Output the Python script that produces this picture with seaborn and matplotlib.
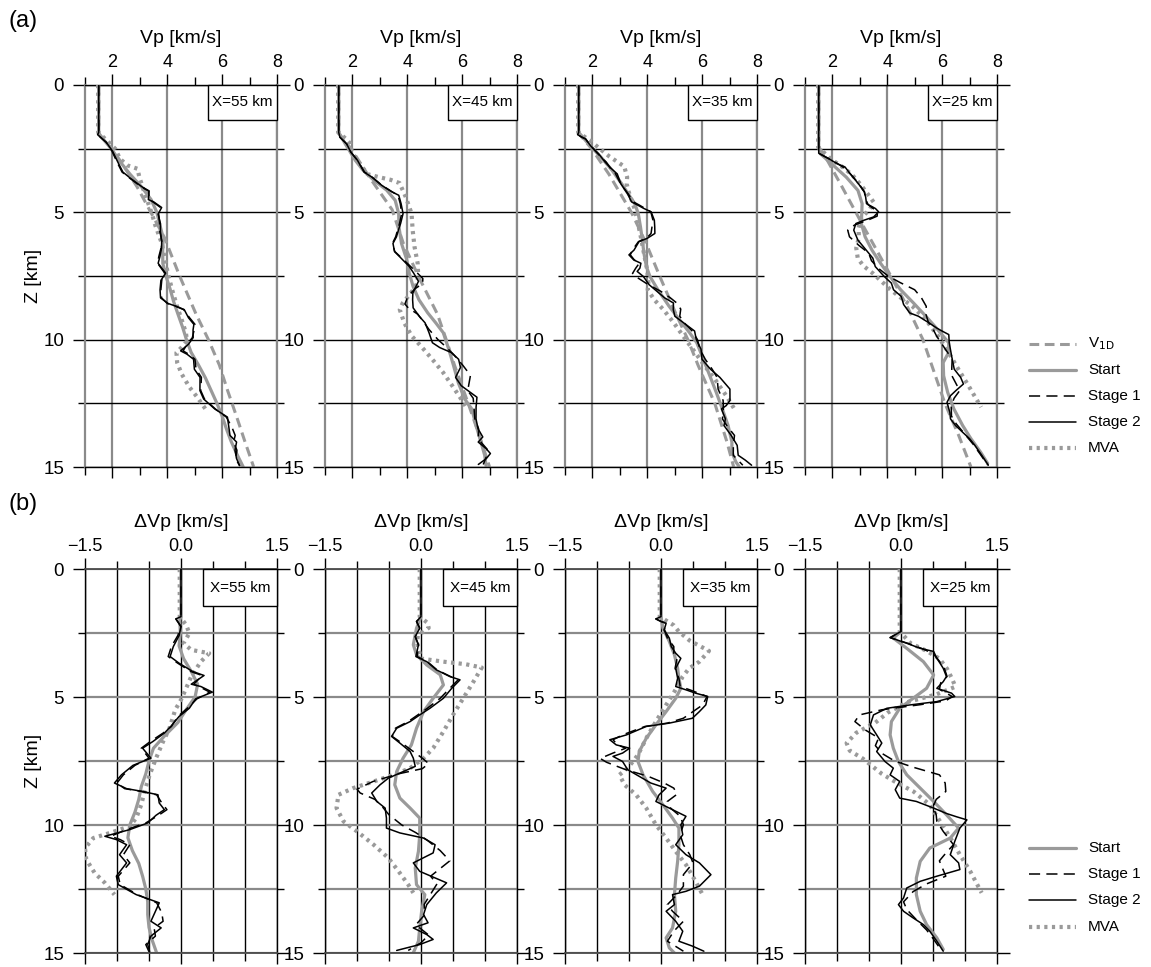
import numpy as np
import matplotlib
matplotlib.use("Agg")
import matplotlib.pyplot as plt
import seaborn as sns
from matplotlib.lines import Line2D
from matplotlib.patches import Rectangle
from matplotlib.ticker import FixedLocator, FuncFormatter, NullFormatter

sns.set_theme(style="white")
plt.rcParams["font.family"] = ["Liberation Sans", "DejaVu Sans"]
plt.rcParams["lines.scale_dashes"] = False
plt.rcParams["mathtext.fontset"] = "custom"
plt.rcParams["mathtext.rm"] = "Liberation Sans"
plt.rcParams["mathtext.default"] = "regular"
for key in ("text.color", "axes.labelcolor", "xtick.color", "ytick.color"):
    plt.rcParams[key] = "black"

# ---------------------------------------------------------------- data
profiles = ["X=55 km", "X=45 km", "X=35 km", "X=25 km"]

# 1-D reference model V1D: (depth km, Vp km/s)
v1d_55 = [(0, 1.5), (1.9, 1.5), (2.5, 1.97), (3.0, 2.3), (4.0, 2.9), (5.0, 3.4), (6.0, 3.9),
          (7.5, 4.45), (9.0, 5.05), (10.0, 5.5), (11.0, 5.9), (12.0, 6.2), (13.0, 6.52),
          (14.0, 6.83), (15.0, 7.15)]
v1d_45 = [(0, 1.5), (1.9, 1.5), (2.5, 1.95), (3.7, 2.67), (4.9, 3.45), (6.2, 3.85), (7.5, 4.4),
          (9.0, 5.1), (10.0, 5.42), (11.0, 5.72), (12.5, 6.22), (14.0, 6.7), (15.0, 7.0)]
v1d_35 = [(0, 1.5), (1.9, 1.5), (2.5, 1.97), (3.5, 2.6), (5.0, 3.42), (6.2, 3.95), (7.5, 4.45),
          (9.0, 5.05), (10.0, 5.48), (11.0, 5.85), (12.5, 6.46), (14.0, 6.9), (15.0, 7.15)]
v1d_25 = [(0, 1.5), (2.44, 1.5), (2.68, 1.67), (3.86, 2.28), (5.55, 3.13), (6.5, 3.62),
          (7.5, 4.13), (8.75, 4.75), (10.0, 5.3), (11.25, 5.7), (12.5, 6.1), (13.75, 6.6),
          (15.0, 7.05)]

# Perturbations relative to V1D: (depth km, dVp km/s)
start_55 = [(0, 0), (1.86, 0), (2.0, -0.02), (2.5, -0.01), (3.0, -0.03), (3.5, 0.04), (4.0, 0.16),
            (4.5, 0.26), (5.0, 0.22), (5.5, 0.08), (6.0, -0.05), (6.5, -0.25), (7.0, -0.43),
            (7.5, -0.5), (8.0, -0.55), (8.5, -0.62), (9.0, -0.66), (9.5, -0.72), (10.0, -0.8),
            (10.5, -0.83), (11.0, -0.76), (11.5, -0.66), (12.0, -0.6), (12.5, -0.55),
            (13.0, -0.52), (13.5, -0.52), (14.0, -0.5), (14.5, -0.45), (15.0, -0.38)]
stage1_55 = [(0, 0), (1.86, 0), (1.95, -0.08), (2.25, 0), (2.6, -0.05), (3.03, -0.15), (3.42, -0.2),
             (3.68, -0.05), (4.0, 0.15), (4.16, 0.33), (4.5, 0.2), (4.59, 0.28), (4.81, 0.45),
             (5.07, 0.25), (5.44, 0.1), (5.76, -0.05), (6.15, -0.15), (6.41, -0.28), (6.74, -0.48),
             (7.0, -0.62), (7.39, -0.5), (7.67, -0.72), (8.04, -0.9), (8.36, -1.0), (8.58, -0.88),
             (8.69, -0.62), (8.82, -0.38), (9.14, -0.3), (9.4, -0.22), (9.62, -0.35), (9.92, -0.55),
             (10.18, -0.85), (10.44, -1.1), (10.57, -0.95), (10.77, -0.8), (11.16, -0.9),
             (11.48, -0.8), (12.0, -0.98), (12.33, -0.95), (12.72, -0.68), (13.04, -0.38),
             (13.43, -0.3), (13.76, -0.28), (14.02, -0.42), (14.34, -0.4), (14.67, -0.55),
             (14.95, -0.5)]
stage2_55 = [(0, 0), (1.86, 0), (1.95, -0.08), (2.25, 0), (2.6, -0.03), (3.03, -0.12), (3.42, -0.17),
             (3.68, -0.03), (4.0, 0.18), (4.16, 0.36), (4.5, 0.16), (4.59, 0.31), (4.81, 0.49),
             (5.07, 0.23), (5.44, 0.13), (5.76, -0.03), (6.15, -0.16), (6.41, -0.26), (6.74, -0.44),
             (7.0, -0.6), (7.39, -0.47), (7.67, -0.75), (8.04, -0.93), (8.36, -1.04), (8.58, -0.85),
             (8.69, -0.6), (8.82, -0.36), (9.14, -0.34), (9.4, -0.26), (9.62, -0.39), (9.92, -0.52),
             (10.18, -0.8), (10.44, -1.19), (10.57, -1.01), (10.77, -0.85), (11.16, -0.96),
             (11.48, -0.85), (12.0, -1.01), (12.33, -0.98), (12.72, -0.7), (13.04, -0.34),
             (13.43, -0.41), (13.76, -0.47), (14.02, -0.31), (14.34, -0.47), (14.67, -0.52),
             (14.95, -0.49)]
mva_55 = [(0, -0.02), (1.86, -0.02), (2.18, 0.08), (2.51, 0.13), (2.9, 0.04), (3.16, 0.16),
          (3.29, 0.44), (3.62, 0.31), (4.2, 0.16), (4.66, 0.08), (5.11, 0.0), (5.5, -0.09),
          (6.22, -0.18), (6.74, -0.28), (7.39, -0.39), (8.04, -0.49), (8.69, -0.57), (9.2, -0.62),
          (9.73, -0.7), (10.05, -0.8), (10.31, -1.11), (10.51, -1.37), (10.9, -1.5),
          (11.35, -1.48), (11.87, -1.35), (12.26, -1.19), (12.72, -1.04)]

start_45 = [(0, 0), (1.86, 0), (2.31, -0.07), (2.96, -0.12), (3.35, -0.07), (3.75, 0.09),
            (4.13, 0.3), (4.53, 0.35), (5.05, 0.19), (5.57, 0.04), (6.22, -0.07), (6.87, -0.15),
            (7.39, -0.28), (7.91, -0.38), (8.43, -0.41), (8.95, -0.33), (9.34, -0.17),
            (9.73, -0.02), (10.38, -0.02), (11.03, -0.04), (11.68, -0.09), (12.33, -0.07),
            (12.72, 0.06), (13.37, 0.01), (14.02, -0.02), (14.54, -0.04), (14.99, -0.12)]
stage1_45 = [(0, 0), (1.86, 0), (2.05, -0.07), (2.31, -0.02), (2.64, -0.09), (2.96, -0.04),
             (3.42, -0.06), (3.62, 0.1), (3.94, 0.25), (4.2, 0.46), (4.33, 0.58), (4.66, 0.45),
             (5.05, 0.3), (5.44, 0.1), (5.7, -0.05), (5.96, -0.2), (6.22, -0.4), (6.54, -0.45),
             (6.8, -0.3), (7.13, -0.12), (7.39, 0.02), (7.6, 0.12), (7.8, 0.02), (8.0, -0.35),
             (8.3, -0.75), (8.6, -1.0), (8.75, -0.95), (9.0, -0.72), (9.3, -0.6), (9.6, -0.5),
             (10.0, -0.3), (10.3, -0.08), (10.6, 0.1), (11.0, 0.3), (11.4, 0.45), (11.7, 0.3),
             (12.0, 0.15), (12.3, 0.25), (12.7, 0.15), (13.1, 0.05), (13.5, 0.06), (13.9, -0.08),
             (14.3, 0.12), (14.6, 0.0), (14.9, -0.2)]
stage2_45 = [(0, 0), (1.86, 0), (2.05, -0.07), (2.31, -0.02), (2.64, -0.09), (2.96, -0.04),
             (3.42, -0.08), (3.62, 0.09), (3.94, 0.24), (4.2, 0.45), (4.33, 0.61), (4.66, 0.48),
             (5.05, 0.35), (5.44, 0.14), (5.7, -0.02), (5.96, -0.17), (6.22, -0.38), (6.54, -0.46),
             (6.8, -0.33), (7.13, -0.17), (7.39, -0.12), (7.71, -0.09), (7.97, -0.33),
             (8.17, -0.51), (8.43, -0.64), (8.75, -0.77), (9.08, -0.69), (9.34, -0.56),
             (9.73, -0.54), (10.12, -0.54), (10.31, -0.33), (10.51, 0.04), (10.77, 0.22),
             (11.09, 0.19), (11.48, -0.12), (11.81, -0.02), (12.26, 0.4), (12.65, 0.24),
             (13.11, 0.09), (13.5, 0.04), (13.82, 0.11), (14.02, -0.12), (14.28, 0.09),
             (14.47, 0.19), (14.67, -0.02), (14.9, -0.38)]
mva_45 = [(0, -0.02), (1.86, -0.02), (2.1, 0.1), (2.3, 0.12), (2.6, -0.05), (2.9, -0.06),
          (3.5, 0.0), (3.62, 0.35), (3.72, 0.7), (3.85, 0.95), (4.4, 0.82), (5.05, 0.66),
          (5.7, 0.5), (6.35, 0.35), (7.0, 0.19), (7.39, 0.04), (7.78, -0.17), (8.04, -0.43),
          (8.3, -0.74), (8.56, -1.06), (8.82, -1.29), (9.34, -1.32), (9.86, -1.21), (10.25, -1.0),
          (10.77, -0.74), (11.29, -0.51), (11.81, -0.35), (12.33, -0.2), (12.65, -0.12)]

start_35 = [(0, 0), (1.86, 0), (2.31, 0.03), (2.83, 0.13), (3.35, 0.21), (3.88, 0.26), (4.27, 0.28),
            (4.66, 0.31), (5.05, 0.23), (5.57, 0.08), (6.09, -0.08), (6.61, -0.23), (7.13, -0.34),
            (7.52, -0.36), (8.04, -0.28), (8.69, -0.13), (9.21, 0.03), (9.73, 0.18), (10.12, 0.28),
            (10.77, 0.28), (11.42, 0.26), (12.07, 0.23), (12.72, 0.21), (13.37, 0.23),
            (14.02, 0.18), (14.41, 0.08), (14.8, 0.13), (15.0, 0.21)]
stage1_35 = [(0, 0), (1.86, 0), (1.95, -0.08), (2.05, 0), (2.12, 0.08), (2.38, 0.05), (2.7, 0.1),
             (3.03, 0.2), (3.29, 0.2), (3.49, 0.25), (3.88, 0.22), (4.27, 0.28), (4.59, 0.3),
             (4.72, 0.45), (4.98, 0.72), (5.31, 0.65), (5.57, 0.5), (5.83, 0.35), (6.02, 0.1),
             (6.15, -0.25), (6.48, -0.6), (6.67, -0.75), (6.87, -0.68), (7.0, -0.55), (7.19, -0.75),
             (7.4, -0.95), (7.55, -0.85), (7.84, -0.55), (8.1, -0.2), (8.36, 0.05), (8.56, 0.2),
             (8.8, 0.25), (9.08, 0.1), (9.34, 0.15), (9.66, 0.3), (9.99, 0.35), (10.38, 0.3),
             (10.77, 0.35), (11.16, 0.45), (11.48, 0.5), (11.94, 0.35), (12.39, 0.35),
             (12.72, 0.25), (13.11, 0.1), (13.37, 0.18), (13.76, 0.35), (14.15, 0.2), (14.54, 0.1),
             (14.93, 0.35)]
stage2_35 = [(0, 0), (1.86, 0), (1.95, -0.08), (2.05, 0), (2.12, 0.08), (2.38, 0.05), (2.7, 0.13),
             (3.03, 0.16), (3.29, 0.23), (3.49, 0.31), (3.88, 0.23), (4.27, 0.26), (4.59, 0.23),
             (4.72, 0.39), (4.85, 0.54), (4.98, 0.73), (5.31, 0.7), (5.57, 0.6), (5.83, 0.49),
             (6.02, 0.13), (6.15, -0.23), (6.48, -0.54), (6.67, -0.8), (6.87, -0.7), (7.0, -0.49),
             (7.19, -0.6), (7.32, -0.75), (7.52, -0.6), (7.84, -0.52), (8.1, -0.34), (8.36, -0.16),
             (8.56, 0.08), (8.82, -0.03), (9.08, -0.08), (9.34, 0.13), (9.66, 0.39), (9.99, 0.31),
             (10.38, 0.34), (10.77, 0.23), (11.16, 0.39), (11.48, 0.6), (11.94, 0.78),
             (12.39, 0.6), (12.59, 0.39), (12.72, 0.18), (13.11, 0.21), (13.37, 0.08),
             (13.76, 0.23), (14.15, 0.34), (14.54, 0.28), (14.73, 0.49), (14.93, 0.67)]
mva_35 = [(0, -0.02), (1.86, -0.02), (2.2, 0.2), (2.45, 0.28), (2.8, 0.45), (3.2, 0.75),
          (3.62, 0.6), (3.88, 0.44), (4.2, 0.34), (4.79, 0.21), (5.31, 0.08), (5.96, -0.08),
          (6.61, -0.23), (7.26, -0.36), (7.78, -0.52), (8.04, -0.65), (8.43, -0.57),
          (8.82, -0.39), (9.34, -0.23), (9.99, -0.08), (10.51, 0.08), (11.03, 0.23),
          (11.55, 0.39), (12.2, 0.54), (12.72, 0.65)]

start_25 = [(0, 0), (2.44, 0), (2.7, -0.12), (3.1, 0.09), (3.62, 0.35), (4.14, 0.51), (4.66, 0.4),
            (5.05, 0.19), (5.44, -0.02), (5.96, -0.15), (6.48, -0.17), (7.0, -0.12), (7.52, -0.04),
            (8.04, 0.09), (8.56, 0.3), (9.08, 0.51), (9.6, 0.71), (10.12, 0.9), (10.51, 0.77),
            (10.9, 0.45), (11.42, 0.3), (12.07, 0.24), (12.72, 0.24), (13.37, 0.3), (13.89, 0.4),
            (14.41, 0.56), (14.86, 0.66)]
stage1_25 = [(0, 0), (2.44, 0), (2.68, -0.17), (2.9, 0.1), (3.1, 0.32), (3.3, 0.5), (3.6, 0.6),
             (3.9, 0.68), (4.2, 0.72), (4.45, 0.62), (4.7, 0.6), (4.98, 0.8), (5.15, 0.7),
             (5.3, 0.3), (5.5, -0.3), (5.7, -0.65), (5.96, -0.72), (6.3, -0.55), (6.6, -0.35),
             (6.9, -0.4), (7.2, -0.3), (7.5, -0.1), (7.75, 0.2), (8.04, 0.6), (8.36, 0.69),
             (8.69, 0.7), (9.0, 0.55), (9.3, 0.5), (9.6, 0.55), (9.86, 0.56), (10.25, 0.66),
             (10.77, 0.82), (11.1, 0.7), (11.4, 0.6), (11.7, 0.65), (12.0, 0.7), (12.3, 0.4),
             (12.6, 0.19), (13.0, 0.04), (13.3, 0.09), (13.7, 0.24), (14.1, 0.4), (14.5, 0.52),
             (14.93, 0.64)]
stage2_25 = [(0, 0), (2.44, 0), (2.68, -0.17), (2.9, 0.09), (3.1, 0.3), (3.22, 0.51), (3.49, 0.56),
             (3.68, 0.61), (3.88, 0.66), (4.2, 0.71), (4.4, 0.66), (4.66, 0.56), (4.85, 0.79),
             (4.98, 0.84), (5.18, 0.56), (5.31, 0.14), (5.44, -0.22), (5.7, -0.43), (6.09, -0.48),
             (6.48, -0.38), (6.8, -0.3), (7.13, -0.38), (7.52, -0.25), (7.78, -0.12),
             (8.04, -0.17), (8.3, -0.02), (8.62, -0.09), (8.95, -0.02), (9.08, 0.24), (9.34, 0.51),
             (9.55, 0.71), (9.68, 0.87), (9.8, 1.03), (10.12, 0.92), (10.64, 0.84), (11.16, 0.77),
             (11.48, 0.9), (11.74, 0.92), (12.0, 0.56), (12.2, 0.3), (12.46, 0.09), (12.85, 0.04),
             (13.11, -0.04), (13.37, 0.04), (13.63, 0.19), (13.89, 0.35), (14.15, 0.45),
             (14.54, 0.56), (14.93, 0.66)]
mva_25 = [(0, -0.02), (2.44, -0.02), (2.9, 0.15), (3.2, 0.4), (3.5, 0.6), (3.9, 0.72), (4.3, 0.8),
          (4.6, 0.85), (4.9, 0.55), (5.2, 0.1), (5.6, -0.2), (6.0, -0.4), (6.4, -0.7), (6.8, -0.85),
          (7.1, -0.8), (7.4, -0.6), (7.7, -0.45), (8.0, -0.3), (8.3, -0.1), (8.7, 0.2),
          (9.21, 0.45), (9.86, 0.61), (10.5, 0.77), (11.16, 0.92), (11.8, 1.08), (12.65, 1.26)]

v1d_all = [v1d_55, v1d_45, v1d_35, v1d_25]
start_all = [start_55, start_45, start_35, start_25]
stage1_all = [stage1_55, stage1_45, stage1_35, stage1_25]
stage2_all = [stage2_55, stage2_45, stage2_35, stage2_25]
mva_all = [mva_55, mva_45, mva_35, mva_25]

vp_ticks = [2, 4, 6, 8]
vp_minor = [1, 3, 5, 7]
dvp_ticks = [-1.5, 0.0, 1.5]
dvp_minor = [-1.0, -0.5, 0.5, 1.0]
z_ticks = [0, 5, 10, 15]
z_minor = [2.5, 7.5, 12.5]

# ---------------------------------------------------------------- styles
GRAY = "#9a9a9a"
GRID_GRAY = "#8a8a8a"
STYLES = {
    "V1D": dict(color=GRAY, lw=2.2, linestyle=(0, (7, 4)), zorder=2),
    "Start": dict(color=GRAY, lw=2.3, linestyle="-", zorder=2),
    "Stage 1": dict(color="black", lw=1.1, linestyle=(0, (8, 4.5)), zorder=4),
    "Stage 2": dict(color="black", lw=1.1, linestyle="-", zorder=4),
    "MVA": dict(color=GRAY, lw=3.0, linestyle=(0, (2.3, 3.2)), dash_capstyle="butt", zorder=3),
}

W, H = 1151, 967
fig = plt.figure(figsize=(W / 100, H / 100), dpi=100)


def px_axes(left, top, right, bottom):
    return fig.add_axes([left / W, 1 - bottom / H, (right - left) / W, (bottom - top) / H])


def draw(ax, pts, style, base=None):
    arr = np.asarray(pts, dtype=float)
    z, dv = arr[:, 0], arr[:, 1]
    if base is not None:
        b = np.asarray(base, dtype=float)
        dv = dv + np.interp(z, b[:, 0], b[:, 1])
    sns.lineplot(x=dv, y=z, ax=ax, sort=False, estimator=None, legend=False,
                 **STYLES[style])


def fmt_dvp(v, pos):
    return f"{v:.1f}".replace("-", "\u2212")


lefts = [85, 325, 565, 805]
AX_W = 192

for row in range(2):
    top_px, bot_px = (85, 467) if row == 0 else (569, 953)
    h_px = bot_px - top_px
    for i in range(4):
        ax = px_axes(lefts[i], top_px, lefts[i] + AX_W, bot_px)
        base = v1d_all[i] if row == 0 else None
        draw(ax, start_all[i], "Start", base)
        if row == 0:
            draw(ax, v1d_all[i], "V1D", None)
        draw(ax, mva_all[i], "MVA", base)
        draw(ax, stage1_all[i], "Stage 1", base)
        draw(ax, stage2_all[i], "Stage 2", base)

        ax.set_ylim(15, 0)
        if row == 0:
            ax.set_xlim(1, 8)
            ax.xaxis.set_major_locator(FixedLocator(vp_ticks))
            ax.xaxis.set_minor_locator(FixedLocator(vp_minor))
            title = "Vp [km/s]"
            vcol, hcol = GRID_GRAY, "black"
            vlw, hlw = 1.6, 1.0
            vgrid = "major"
        else:
            ax.set_xlim(-1.5, 1.5)
            ax.xaxis.set_major_locator(FixedLocator(dvp_ticks))
            ax.xaxis.set_minor_locator(FixedLocator(dvp_minor))
            ax.xaxis.set_major_formatter(FuncFormatter(fmt_dvp))
            title = "\u0394Vp [km/s]"
            vcol, hcol = "black", GRID_GRAY
            vlw, hlw = 1.0, 1.6
            vgrid = "both"
        ax.xaxis.set_minor_formatter(NullFormatter())
        ax.yaxis.set_major_locator(FixedLocator(z_ticks))
        ax.yaxis.set_minor_locator(FixedLocator(z_minor))
        ax.yaxis.set_minor_formatter(NullFormatter())

        ax.grid(False)
        ax.grid(True, which=vgrid, axis="x", color=vcol, lw=vlw)
        ax.grid(True, which="both", axis="y", color=hcol, lw=hlw)
        ax.set_axisbelow(True)

        for s in ("left", "right"):
            ax.spines[s].set_color(vcol)
            ax.spines[s].set_linewidth(vlw)
        for s in ("top", "bottom"):
            ax.spines[s].set_color("black" if row == 0 else "#4a4a4a")
            ax.spines[s].set_linewidth(1.0 if row == 0 else 1.3)

        ax.tick_params(axis="x", which="both", top=True, bottom=True, labeltop=True,
                       labelbottom=False, direction="out", color="black", width=1)
        ax.tick_params(axis="x", which="major", length=8, pad=2, labelsize=13)
        ax.tick_params(axis="x", which="minor", length=6)
        ax.tick_params(axis="y", which="both", left=True, right=True, direction="out",
                       color="black", width=1)
        ax.tick_params(axis="y", which="major", length=9, pad=6, labelsize=13.5)
        ax.tick_params(axis="y", which="minor", length=5)

        ax.set_xlabel(title, fontsize=14, va="center")
        ax.xaxis.set_label_position("top")
        ax.xaxis.set_label_coords(0.5, 1 + 42 / h_px)
        if i == 0:
            ax.set_ylabel("Z [km]", fontsize=14, va="center")
            ax.yaxis.set_label_coords((33 - lefts[0]) / AX_W, 0.5)
        else:
            ax.set_ylabel("")

        # profile position box in the upper-right corner
        bw = 69 if row == 0 else 74
        bh = 35 if row == 0 else 37
        ax.add_patch(Rectangle((1 - bw / AX_W, 1 - bh / h_px), bw / AX_W, bh / h_px,
                               transform=ax.transAxes, facecolor="white", edgecolor="black",
                               lw=1.0, zorder=6, clip_on=False))
        ax.text(1 - bw / (2 * AX_W), 1 - bh / (2 * h_px), profiles[i], transform=ax.transAxes,
                ha="center", va="center", fontsize=11, zorder=7)

# panel letters
fig.text(8 / W, 1 - 21 / H, "(a)", ha="left", va="center", fontsize=17)
fig.text(8 / W, 1 - 504 / H, "(b)", ha="left", va="center", fontsize=17)


def legend_block(entries, ys):
    for (name, label), y in zip(entries, ys):
        st = dict(STYLES[name])
        st.pop("zorder", None)
        fig.add_artist(Line2D([1029 / W, 1076 / W], [1 - y / H] * 2,
                              transform=fig.transFigure, **st))
        fig.text(1088 / W, 1 - y / H, label, ha="left", va="center", fontsize=11)


legend_block([("V1D", "V$_{\\mathsf{1D}}$"), ("Start", "Start"), ("Stage 1", "Stage 1"),
              ("Stage 2", "Stage 2"), ("MVA", "MVA")],
             [344, 370, 396, 422, 448])
legend_block([("Start", "Start"), ("Stage 1", "Stage 1"), ("Stage 2", "Stage 2"),
              ("MVA", "MVA")],
             [848, 874, 900, 927])

fig.savefig("out.png", dpi=100, facecolor="white")
